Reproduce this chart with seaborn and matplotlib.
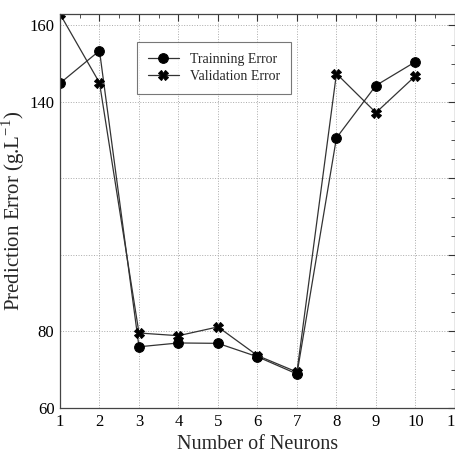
import numpy as np
import pandas as pd
import matplotlib
matplotlib.use("Agg")
import matplotlib.pyplot as plt
import seaborn as sns
from matplotlib.ticker import MultipleLocator

neurons = [1, 2, 3, 4, 5, 6, 7, 8, 9, 10]
training_error = [144.9, 153.4, 76.0, 77.0, 76.9, 73.4, 68.9, 130.6, 144.3, 150.5]
validation_error = [163.0, 145.0, 79.6, 78.9, 81.2, 73.7, 69.4, 147.4, 137.2, 146.8]
y_ticks = [60, 80, 100, 120, 140, 160]
y_tick_labels = ["60", "80", "", "", "140", "160"]
x_ticks = [1, 2, 3, 4, 5, 6, 7, 8, 9, 10, 11]

sns.set_theme(style="white")
plt.rcParams["font.family"] = ["Liberation Serif", "DejaVu Serif"]
plt.rcParams["mathtext.fontset"] = "custom"
plt.rcParams["mathtext.rm"] = "Liberation Serif"

df = pd.DataFrame({
    "Neurons": neurons * 2,
    "Error": training_error + validation_error,
    "Series": ["Trainning Error"] * len(neurons) + ["Validation Error"] * len(neurons),
})

fig = plt.figure(figsize=(4.56, 4.55), dpi=100)
ax = fig.add_axes([0.1316, 0.1033, 0.866, 0.866])

sns.lineplot(data=df, x="Neurons", y="Error", style="Series",
             markers={"Trainning Error": "o", "Validation Error": "X"},
             dashes=False, color="#333333", linewidth=0.9,
             markersize=7, markeredgecolor="black", markerfacecolor="black",
             ax=ax, legend=True)

ax.set_xlim(1, 11)
ax.set_ylim(60, 163)
ax.set_xticks(x_ticks)
ax.set_xticklabels([str(v) for v in x_ticks])
ax.set_yticks(y_ticks)
ax.set_yticklabels(y_tick_labels)
ax.xaxis.set_minor_locator(MultipleLocator(0.5))
ax.yaxis.set_minor_locator(MultipleLocator(5))
ax.tick_params(which="both", direction="in", top=True, right=True,
               colors="#333333", labelcolor="black", labelsize=12, pad=4)
ax.tick_params(which="major", length=5, width=0.8)
ax.tick_params(which="minor", length=3, width=0.6)
ax.grid(True, which="major", linestyle=":", color="#aaaaaa", linewidth=0.7)
for s in ax.spines.values():
    s.set_color("#444444")
    s.set_linewidth(0.9)

ax.set_xlabel("Number of Neurons", fontsize=14.5, labelpad=4)
ax.set_ylabel("Prediction Error (g.L$^{-1}$)", fontsize=15, labelpad=2)

leg = ax.legend(loc="upper left", bbox_to_anchor=(0.177, 0.947), frameon=True,
                fontsize=10, fancybox=False, borderpad=0.8, handlelength=2.2,
                labelspacing=0.3, handletextpad=0.8)
leg.get_frame().set_edgecolor("#555555")
leg.get_frame().set_linewidth(0.8)

fig.savefig("out.png", dpi=100)
